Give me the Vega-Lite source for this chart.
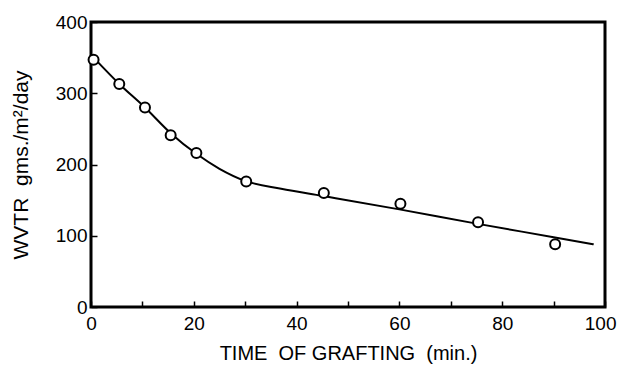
{
  "$schema": "https://vega.github.io/schema/vega-lite/v6.json",
  "width": 514,
  "height": 285,
  "autosize": "none",
  "padding": {"left": 91, "top": 22, "right": 14, "bottom": 58},
  "background": "white",
  "config": {
    "view": {"stroke": "black", "strokeWidth": 3},
    "font": "Liberation Sans",
    "axis": {
      "domain": false,
      "grid": false,
      "ticks": true,
      "tickColor": "black",
      "tickWidth": 1.5,
      "tickSize": -6,
      "labelColor": "black",
      "labelFont": "Liberation Sans",
      "labelFontSize": 19,
      "labelFlush": false,
      "titleColor": "black",
      "titleFont": "Liberation Sans",
      "titleFontSize": 20,
      "titleFontWeight": "normal"
    }
  },
  "datasets": {
    "measured": [
      {"time": 0.5, "wvtr": 347},
      {"time": 5.5, "wvtr": 313},
      {"time": 10.5, "wvtr": 280},
      {"time": 15.5, "wvtr": 241},
      {"time": 20.5, "wvtr": 216},
      {"time": 30.2, "wvtr": 176},
      {"time": 45.3, "wvtr": 160},
      {"time": 60.2, "wvtr": 145},
      {"time": 75.3, "wvtr": 119},
      {"time": 90.3, "wvtr": 88}
    ],
    "curve": [
      {"time": 0.5, "wvtr": 350},
      {"time": 5.5, "wvtr": 313},
      {"time": 10.5, "wvtr": 280},
      {"time": 15.5, "wvtr": 244},
      {"time": 20.5, "wvtr": 215},
      {"time": 25, "wvtr": 194},
      {"time": 30, "wvtr": 177},
      {"time": 37, "wvtr": 166},
      {"time": 45, "wvtr": 156},
      {"time": 60, "wvtr": 137},
      {"time": 75, "wvtr": 117},
      {"time": 90, "wvtr": 98},
      {"time": 97.8, "wvtr": 88}
    ]
  },
  "layer": [
    {
      "data": {"name": "curve"},
      "mark": {"type": "line", "color": "black", "strokeWidth": 2, "interpolate": "monotone"},
      "encoding": {
        "x": {
          "field": "time",
          "type": "quantitative",
          "scale": {"domain": [0, 100], "nice": false},
          "axis": {
            "title": "TIME\u00a0\u00a0OF GRAFTING\u00a0\u00a0(min.)",
            "values": [0, 10, 20, 30, 40, 50, 60, 70, 80, 90, 100],
            "labelExpr": "datum.value % 20 == 0 ? datum.label : ''",
            "labelAlign": {"condition": {"test": "datum.value == 100", "value": "right"}, "value": "center"},
            "labelOffset": {"condition": {"test": "datum.value == 100", "value": 11}, "value": 0},
            "labelPadding": 13,
            "titlePadding": 10
          }
        },
        "y": {
          "field": "wvtr",
          "type": "quantitative",
          "scale": {"domain": [0, 400], "nice": false},
          "axis": {
            "title": "WVTR\u00a0\u00a0gms./m²/day",
            "values": [0, 100, 200, 300, 400],
            "labelPadding": 10,
            "titlePadding": 24,
            "titleFontSize": 21
          }
        }
      }
    },
    {
      "data": {"name": "measured"},
      "mark": {"type": "point", "shape": "circle", "filled": false, "fill": "white", "fillOpacity": 1, "stroke": "black", "strokeWidth": 2, "size": 100, "opacity": 1},
      "encoding": {
        "x": {"field": "time", "type": "quantitative"},
        "y": {"field": "wvtr", "type": "quantitative"}
      }
    }
  ]
}
